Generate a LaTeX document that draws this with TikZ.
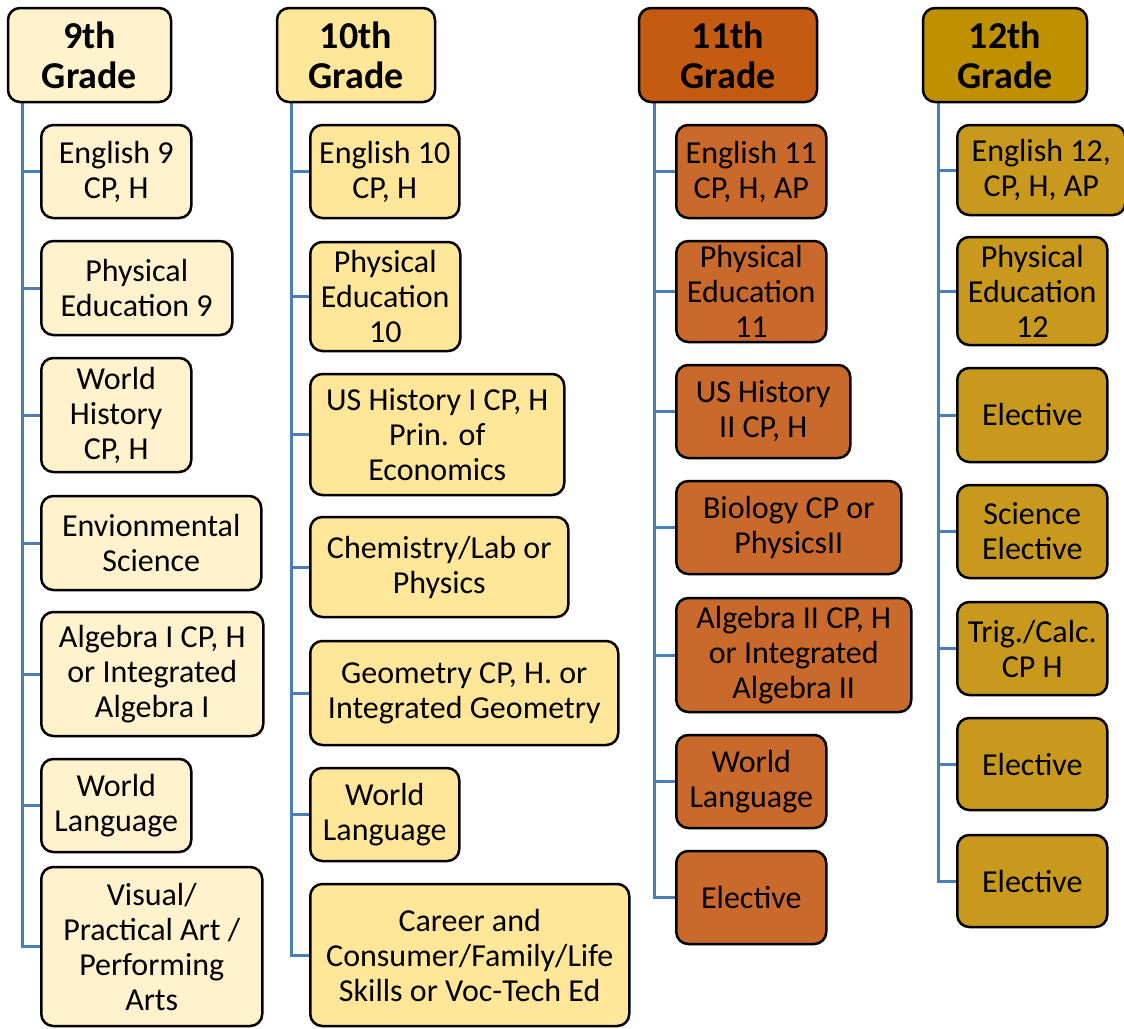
\documentclass[tikz,border=0pt]{standalone}
\usepackage{fontspec}
\setmainfont{Carlito}
\usepackage{tikz}
\usetikzlibrary{calc}
\usetikzlibrary{backgrounds}

\definecolor{ninth}{HTML}{FFF2CC}
\definecolor{tenth}{HTML}{FFE699}
\definecolor{eleventh}{HTML}{C55A11}
\definecolor{eleventhbox}{HTML}{C9692B}
\definecolor{twelfth}{HTML}{BF9000}
\definecolor{twelfthbox}{HTML}{C8991D}
\definecolor{treeblue}{HTML}{4A7EBB}

\tikzset{
  grade/.style={draw,line width=2.5pt,rounded corners=12pt,align=center,inner sep=0pt,
    font=\bfseries\fontsize{38}{40}\selectfont},
  course/.style={draw,line width=2.5pt,rounded corners=12pt,align=center,inner sep=0pt,
    anchor=west,font=\fontsize{32}{35}\selectfont},
  trunk/.style={draw=treeblue,line width=3pt}
}

\begin{document}
\begin{tikzpicture}[x=1pt,y=-1pt]
\useasboundingbox (0,0) rectangle (1124,1028);
% 9th grade
\node (g9) at (89.5,55) [grade,fill=ninth,minimum width=163pt,minimum height=94pt] {9th\\Grade};
\node (g9a) at (40,171.5) [course,fill=ninth,minimum width=150pt,minimum height=93pt] {English 9\\CP, H};
\node (g9b) at (40,288) [course,fill=ninth,minimum width=191pt,minimum height=94pt] {Physical\\Education 9};
\node (g9c) at (40,415) [course,fill=ninth,minimum width=150pt,minimum height=114pt] {World\\History\\CP, H};
\node (g9d) at (40,543) [course,fill=ninth,minimum width=220pt,minimum height=94pt] {Envionmental\\Science};
\node (g9e) at (40,674) [course,fill=ninth,minimum width=222pt,minimum height=124pt] {Algebra I CP, H\\or Integrated\\Algebra I};
\node (g9f) at (40,805.5) [course,fill=ninth,minimum width=150pt,minimum height=93pt] {World\\Language};
\node (g9g) at (40,946.5) [course,fill=ninth,minimum width=221pt,minimum height=159pt] {Visual/\\Practical Art /\\Performing\\Arts};
% 10th grade
\node (g10) at (356,55) [grade,fill=tenth,minimum width=158pt,minimum height=94pt] {10th\\Grade};
\node (g10a) at (309,171.5) [course,fill=tenth,minimum width=149pt,minimum height=93pt] {English 10\\CP, H};
\node (g10b) at (309,296.5) [course,fill=tenth,minimum width=150pt,minimum height=109pt] {Physical\\Education\\10};
\node (g10c) at (309,434.5) [course,fill=tenth,minimum width=254pt,minimum height=121pt] {US History I CP, H\\Prin. of\\Economics};
\node (g10d) at (309,567) [course,fill=tenth,minimum width=258pt,minimum height=100pt] {Chemistry/Lab or\\Physics};
\node (g10e) at (309,693) [course,fill=tenth,minimum width=308pt,minimum height=104pt] {Geometry CP, H. or\\Integrated Geometry};
\node (g10f) at (309,814.5) [course,fill=tenth,minimum width=149pt,minimum height=93pt] {World\\Language};
\node (g10g) at (309,955) [course,fill=tenth,minimum width=319pt,minimum height=142pt] {Career and\\Consumer/Family/Life\\Skills or Voc-Tech Ed};
% 11th grade
\node (g11) at (728,55) [grade,fill=eleventh,minimum width=178pt,minimum height=94pt] {11th\\Grade};
\node (g11a) at (675,171.5) [course,fill=eleventhbox,minimum width=150pt,minimum height=93pt] {English 11\\CP, H, AP};
\node (g11b) at (675,291.5) [course,fill=eleventhbox,minimum width=150pt,minimum height=101pt] {Physical\\Education\\11};
\node (g11c) at (675,411.5) [course,fill=eleventhbox,minimum width=174pt,minimum height=93pt] {US History\\II CP, H};
\node (g11d) at (675,527.5) [course,fill=eleventhbox,minimum width=225pt,minimum height=93pt] {Biology CP or\\PhysicsII};
\node (g11e) at (675,655) [course,fill=eleventhbox,minimum width=235pt,minimum height=114pt] {Algebra II CP, H\\or Integrated\\Algebra II};
\node (g11f) at (675,781.5) [course,fill=eleventhbox,minimum width=150pt,minimum height=93pt] {World\\Language};
\node (g11g) at (675,897.5) [course,fill=eleventhbox,minimum width=150pt,minimum height=93pt] {Elective};
% 12th grade
\node (g12) at (1005,55) [grade,fill=twelfth,minimum width=164pt,minimum height=94pt] {12th\\Grade};
\node (g12a) at (956,170) [course,fill=twelfthbox,minimum width=168pt,minimum height=90pt] {English 12,\\CP, H, AP};
\node (g12b) at (956,291) [course,fill=twelfthbox,minimum width=150pt,minimum height=108pt] {Physical\\Education\\12};
\node (g12c) at (956,415) [course,fill=twelfthbox,minimum width=150pt,minimum height=94pt] {Elective};
\node (g12d) at (956,531.5) [course,fill=twelfthbox,minimum width=150pt,minimum height=93pt] {Science\\Elective};
\node (g12e) at (956,648.5) [course,fill=twelfthbox,minimum width=150pt,minimum height=93pt] {Trig./Calc.\\CP H};
\node (g12f) at (956,764) [course,fill=twelfthbox,minimum width=150pt,minimum height=92pt] {Elective};
\node (g12g) at (956,881) [course,fill=twelfthbox,minimum width=150pt,minimum height=92pt] {Elective};
% tree lines
\begin{scope}[on background layer]
\foreach \g/\dx in {9/16,10/16,11/17,12/17} {
  \foreach \c in {a,...,g} {
    \draw[trunk] ($(g\g.south west)+(\dx,0)$) |- (g\g\c.west);
  }
}
\end{scope}
\end{tikzpicture}
\end{document}
